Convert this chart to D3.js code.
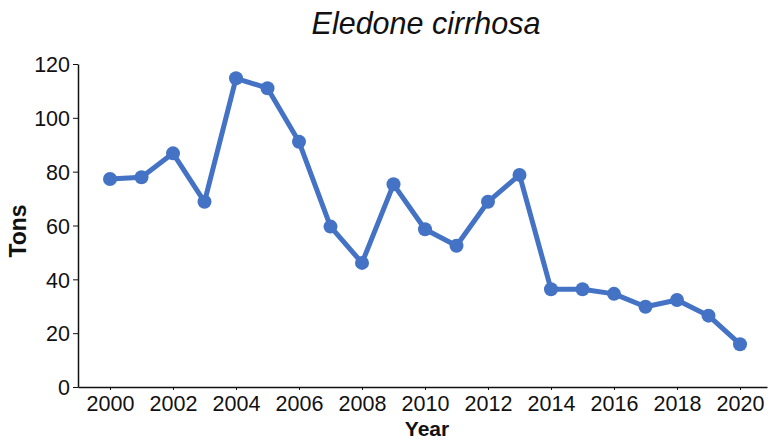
<!DOCTYPE html>
<html>
<head>
<meta charset="utf-8">
<script src="https://cdn.jsdelivr.net/npm/d3@7"></script>
<style>
  html, body { margin: 0; padding: 0; background: #fff; }
  svg { display: block; font-family: "Liberation Sans", Arial, sans-serif; }
</style>
</head>
<body>
<svg id="chart" width="769" height="441"></svg>
<script>
const years = [2000, 2001, 2002, 2003, 2004, 2005, 2006, 2007, 2008, 2009, 2010,
               2011, 2012, 2013, 2014, 2015, 2016, 2017, 2018, 2019, 2020];
const tons = [77.3, 77.9, 86.8, 68.8, 114.7, 111, 91.1, 59.6, 46.1, 75.3, 58.6,
              52.5, 68.8, 78.8, 36.3, 36.3, 34.6, 29.8, 32.3, 26.5, 15.9];
const xTicks = [2000, 2002, 2004, 2006, 2008, 2010, 2012, 2014, 2016, 2018, 2020];
const yTicks = [0, 20, 40, 60, 80, 100, 120];
const title = "Eledone cirrhosa";
const xLabel = "Year";
const yLabel = "Tons";

const svg = d3.select("#chart");
const color = "#4472C4";
const ink = "#111";

const x = d3.scaleLinear().domain([1998.984, 2020.857]).range([78, 767]);
const y = d3.scaleLinear().domain([0, 120]).range([387, 64]);

// X axis
const gx = svg.append("g").attr("transform", "translate(0,387)")
  .call(d3.axisBottom(x).tickValues(xTicks).tickFormat(d3.format("d")).tickSize(3).tickSizeOuter(0));
gx.select(".domain").attr("stroke", ink).attr("stroke-width", 1.5);
gx.selectAll(".tick line").attr("stroke", ink).attr("stroke-width", 1);
gx.selectAll(".tick text").attr("font-size", 21.5).attr("fill", ink).attr("dy", null).attr("y", 24)
  .attr("font-family", "Liberation Sans, Arial, sans-serif");

// Y axis
const gy = svg.append("g").attr("transform", "translate(78,0)")
  .call(d3.axisLeft(y).tickValues(yTicks).tickSize(5).tickSizeOuter(0));
gy.select(".domain").attr("stroke", ink).attr("stroke-width", 1.5);
gy.selectAll(".tick line").attr("stroke", ink).attr("stroke-width", 1);
gy.selectAll(".tick text").attr("font-size", 21.5).attr("fill", ink).attr("x", -8).attr("dy", "0.36em")
  .attr("font-family", "Liberation Sans, Arial, sans-serif");

// Line
const data = years.map((yr, i) => ({ yr, v: tons[i] }));
svg.append("path").datum(data)
  .attr("fill", "none").attr("stroke", color).attr("stroke-width", 5)
  .attr("stroke-linejoin", "round")
  .attr("d", d3.line().x(d => x(d.yr)).y(d => y(d.v)));

svg.append("g").selectAll("circle").data(data).join("circle")
  .attr("cx", d => x(d.yr)).attr("cy", d => y(d.v)).attr("r", 7).attr("fill", color);

// Title
svg.append("text").attr("x", 426).attr("y", 34).attr("text-anchor", "middle")
  .attr("font-size", 30.5).attr("font-style", "italic").attr("fill", ink).text(title);

// Axis labels
svg.append("text").attr("x", 427).attr("y", 436).attr("text-anchor", "middle")
  .attr("font-size", 21).attr("font-weight", "bold").attr("fill", ink).text(xLabel);
svg.append("text").attr("transform", "translate(26,231) rotate(-90)").attr("text-anchor", "middle")
  .attr("font-size", 23).attr("font-weight", "bold").attr("fill", ink).text(yLabel);
</script>
</body>
</html>
